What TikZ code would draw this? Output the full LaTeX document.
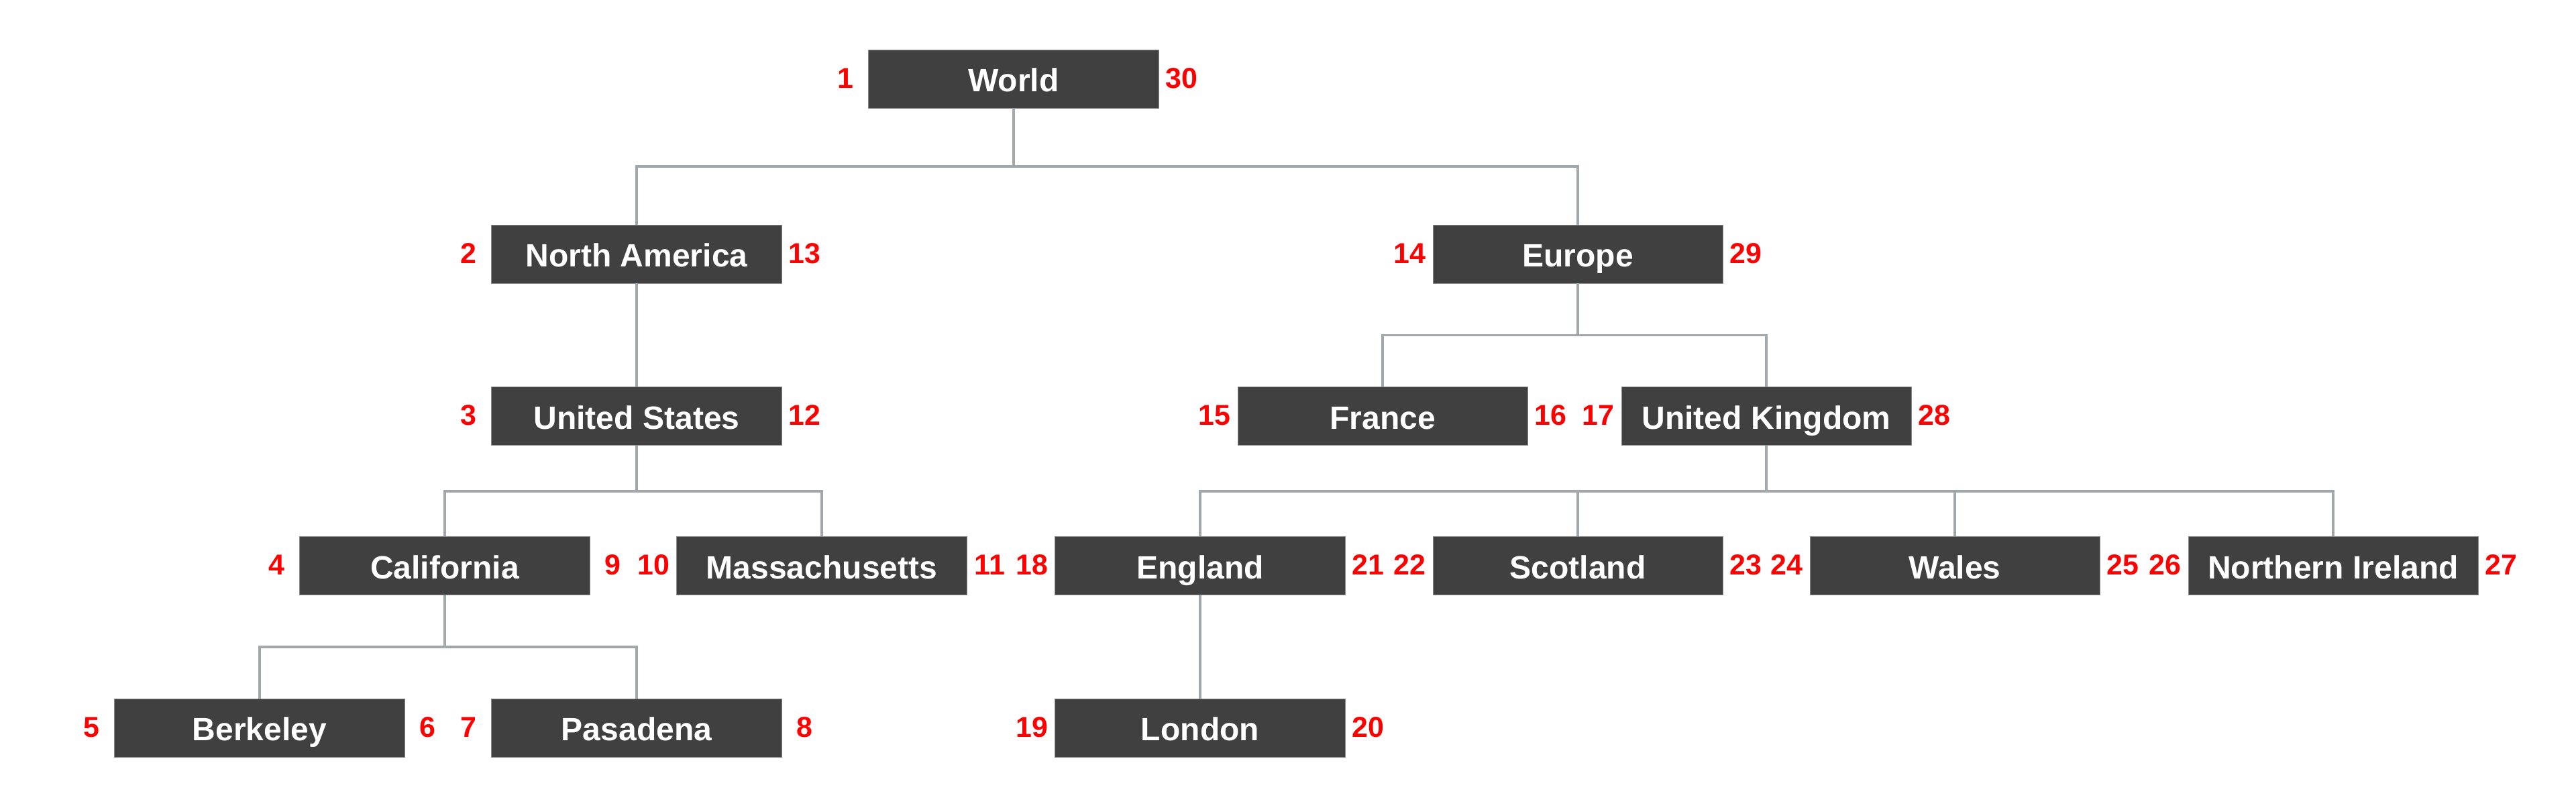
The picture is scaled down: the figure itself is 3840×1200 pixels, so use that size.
\documentclass[tikz,border=0pt]{standalone}
\usepackage{fontspec}
\setmainfont{Liberation Sans}
\definecolor{boxc}{HTML}{404040}
\definecolor{boxedge}{HTML}{8C8C8C}
\definecolor{linec}{HTML}{A0A8AB}
\definecolor{numc}{HTML}{FF0000}
\begin{document}
\begin{tikzpicture}[x=0.01cm,y=-0.01cm,
  box/.style={fill=boxc, draw=boxedge, line width=0.008cm, minimum width=4.32cm, minimum height=0.87cm,
    inner sep=0pt, text=white, font=\fontsize{13.66pt}{16pt}\selectfont\bfseries,
    text height=12.3pt, text depth=1.23pt},
  num/.style={text=numc, inner sep=0pt, font=\fontsize{12.2pt}{14pt}\selectfont\bfseries,
    text height=8.78pt, text depth=0.98pt},
  conn/.style={draw=linec, line width=0.035cm}]
\useasboundingbox (0,0) rectangle (3840,1200);

% boxes
\node[box] (W)  at (1511,117.5) {World};
\node[box] (NA) at (949,378.5) {North America};
\node[box] (EU) at (2352,378.5) {Europe};
\node[box] (US) at (949,620) {United States};
\node[box] (FR) at (2061,620) {France};
\node[box] (UK) at (2633,620) {United Kingdom};
\node[box] (CA) at (663,843) {California};
\node[box] (MA) at (1225,843) {Massachusetts};
\node[box] (EN) at (1789,843) {England};
\node[box] (SC) at (2352,843) {Scotland};
\node[box] (WA) at (2914,843) {Wales};
\node[box] (NI) at (3478,843) {Northern Ireland};
\node[box] (BE) at (387,1084.5) {Berkeley};
\node[box] (PA) at (949,1084.5) {Pasadena};
\node[box] (LO) at (1789,1084.5) {London};

% numbers
\foreach \n/\l/\r in {W/1/30, NA/2/13, US/3/12, CA/4/9, BE/5/6, PA/7/8, MA/10/11,
  EU/14/29, FR/15/16, UK/17/28, EN/18/21, LO/19/20, SC/22/23, WA/24/25, NI/26/27}{
  \node[num] (\n-l) at ([xshift=-0.34cm]\n.west) {\l};
  \node[num] (\n-r) at ([xshift=0.34cm]\n.east) {\r};
}

% connectors
\coordinate (b0) at (0,248);
\coordinate (b1) at (0,499.5);
\coordinate (b2) at (0,731.8);
\coordinate (b3) at (0,964);

\draw[conn] (W.south) -- (W.south |- b0) -| (NA.north);
\draw[conn] (W.south |- b0) -| (EU.north);

\draw[conn] (NA.south) -- (US.north);

\draw[conn] (EU.south) -- (EU.south |- b1) -| (FR.north);
\draw[conn] (EU.south |- b1) -| (UK.north);

\draw[conn] (US.south) -- (US.south |- b2) -| (CA.north);
\draw[conn] (US.south |- b2) -| (MA.north);

\draw[conn] (UK.south) -- (UK.south |- b2) -| (EN.north);
\draw[conn] (UK.south |- b2) -| (SC.north);
\draw[conn] (UK.south |- b2) -| (WA.north);
\draw[conn] (UK.south |- b2) -| (NI.north);

\draw[conn] (CA.south) -- (CA.south |- b3) -| (BE.north);
\draw[conn] (CA.south |- b3) -| (PA.north);

\draw[conn] (EN.south) -- (LO.north);
\end{tikzpicture}
\end{document}
